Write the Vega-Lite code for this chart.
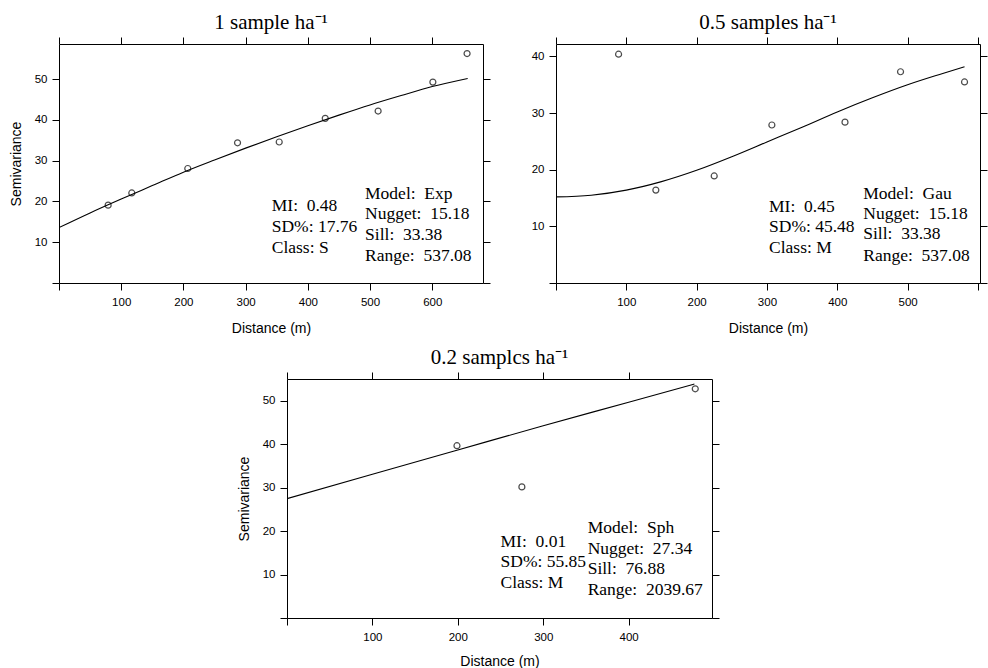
{
  "$schema": "https://vega.github.io/schema/vega-lite/v6.json",
  "background": "white",
  "padding": {"left": 8, "top": 11, "right": 0, "bottom": 0},
  "datasets": {
    "p1pts": [
      {"d": 79, "g": 19.1}, {"d": 117, "g": 22.1}, {"d": 207, "g": 28.1}, {"d": 287, "g": 34.4},
      {"d": 354, "g": 34.6}, {"d": 428, "g": 40.4}, {"d": 513, "g": 42.2}, {"d": 601, "g": 49.3}, {"d": 656, "g": 56.3}
    ],
    "p1fit": [
      {"d": 0, "g": 13.6}, {"d": 50, "g": 17.2}, {"d": 100, "g": 20.6}, {"d": 150, "g": 23.9}, {"d": 200, "g": 27.2},
      {"d": 250, "g": 30.2}, {"d": 300, "g": 33.1}, {"d": 350, "g": 35.9}, {"d": 400, "g": 38.6}, {"d": 450, "g": 41.2},
      {"d": 500, "g": 43.7}, {"d": 550, "g": 46.0}, {"d": 600, "g": 48.2}, {"d": 657, "g": 50.2}
    ],
    "p1txt": [
      {"d": 342, "g": 17.6, "t": "MI:\u00a0 0.48"},
      {"d": 342, "g": 12.4, "t": "SD%: 17.76"},
      {"d": 342, "g": 7.3, "t": "Class: S"},
      {"d": 492, "g": 20.7, "t": "Model:\u00a0 Exp"},
      {"d": 492, "g": 15.6, "t": "Nugget:\u00a0 15.18"},
      {"d": 492, "g": 10.6, "t": "Sill:\u00a0 33.38"},
      {"d": 492, "g": 5.4, "t": "Range:\u00a0 537.08"}
    ],
    "p2pts": [
      {"d": 89, "g": 40.4}, {"d": 142, "g": 16.4}, {"d": 225, "g": 18.9}, {"d": 307, "g": 27.9},
      {"d": 411, "g": 28.4}, {"d": 490, "g": 37.3}, {"d": 581, "g": 35.5}
    ],
    "p2fit": [
      {"d": 0, "g": 15.2}, {"d": 50, "g": 15.5}, {"d": 100, "g": 16.4}, {"d": 150, "g": 17.9}, {"d": 200, "g": 19.9},
      {"d": 250, "g": 22.3}, {"d": 300, "g": 24.9}, {"d": 350, "g": 27.5}, {"d": 400, "g": 30.2}, {"d": 450, "g": 32.7},
      {"d": 500, "g": 35.0}, {"d": 550, "g": 37.0}, {"d": 581, "g": 38.2}
    ],
    "p2txt": [
      {"d": 303, "g": 12.6, "t": "MI:\u00a0 0.45"},
      {"d": 303, "g": 9.0, "t": "SD%: 45.48"},
      {"d": 303, "g": 5.3, "t": "Class: M"},
      {"d": 437, "g": 14.9, "t": "Model:\u00a0 Gau"},
      {"d": 437, "g": 11.3, "t": "Nugget:\u00a0 15.18"},
      {"d": 437, "g": 7.7, "t": "Sill:\u00a0 33.38"},
      {"d": 437, "g": 3.9, "t": "Range:\u00a0 537.08"}
    ],
    "p3pts": [
      {"d": 199, "g": 39.7}, {"d": 275, "g": 30.2}, {"d": 478, "g": 52.8}
    ],
    "p3fit": [
      {"d": 0, "g": 27.5}, {"d": 100, "g": 33.1}, {"d": 200, "g": 38.7}, {"d": 300, "g": 44.3}, {"d": 400, "g": 49.7}, {"d": 477, "g": 53.9}
    ],
    "p3txt": [
      {"d": 250, "g": 16.4, "t": "MI:\u00a0 0.01"},
      {"d": 250, "g": 11.7, "t": "SD%: 55.85"},
      {"d": 250, "g": 6.9, "t": "Class: M"},
      {"d": 352, "g": 19.5, "t": "Model:\u00a0 Sph"},
      {"d": 352, "g": 14.8, "t": "Nugget:\u00a0 27.34"},
      {"d": 352, "g": 10.1, "t": "Sill:\u00a0 76.88"},
      {"d": 352, "g": 5.25, "t": "Range:\u00a0 2039.67"}
    ],
    "empty": []
  },
  "spacing": 10,
  "vconcat": [
    {
      "spacing": 39,
      "hconcat": [
        {
          "width": 424, "height": 239,
          "title": {"text": "1 sample ha\u207b\u00b9"},
          "layer": [
            {
              "data": {"name": "p1fit"},
              "mark": {"type": "line", "color": "#000", "strokeWidth": 1.1, "interpolate": "monotone", "clip": true},
              "encoding": {
                "x": {"field": "d", "type": "quantitative", "scale": {"domain": [0, 681.6], "nice": false, "zero": false},
                  "axis": {"orient": "bottom", "values": [0, 100, 200, 300, 400, 500, 600], "labelExpr": "datum.value == 0 ? '' : datum.label", "title": "Distance (m)"}},
                "y": {"field": "g", "type": "quantitative", "scale": {"domain": [0, 58.65], "nice": false, "zero": false},
                  "axis": {"orient": "left", "values": [0, 10, 20, 30, 40, 50], "labelExpr": "datum.value == 0 ? '' : datum.label", "title": "Semivariance"}}
              }
            },
            {
              "data": {"name": "p1pts"},
              "mark": {"type": "point", "shape": "circle", "color": "#000", "filled": false, "size": 36, "strokeWidth": 1.2},
              "encoding": {
                "x": {"field": "d", "type": "quantitative", "axis": {"orient": "top", "values": [0, 100, 200, 300, 400, 500, 600], "labels": false, "title": null}},
                "y": {"field": "g", "type": "quantitative", "axis": {"orient": "right", "values": [0, 10, 20, 30, 40, 50], "labels": false, "title": null}}
              }
            },
            {
              "data": {"name": "p1txt"},
              "mark": {"type": "text", "font": "Liberation Serif", "fontSize": 17.5, "align": "left", "baseline": "alphabetic", "color": "#000"},
              "encoding": {
                "x": {"field": "d", "type": "quantitative", "axis": null},
                "y": {"field": "g", "type": "quantitative", "axis": null},
                "text": {"field": "t"}
              }
            }
          ],
          "resolve": {"axis": {"x": "independent", "y": "independent"}}
        },
        {
          "width": 424, "height": 239,
          "title": {"text": "0.5 samples ha\u207b\u00b9"},
          "layer": [
            {
              "data": {"name": "p2fit"},
              "mark": {"type": "line", "color": "#000", "strokeWidth": 1.1, "interpolate": "monotone", "clip": true},
              "encoding": {
                "x": {"field": "d", "type": "quantitative", "scale": {"domain": [0, 603], "nice": false, "zero": false},
                  "axis": {"orient": "bottom", "values": [0, 100, 200, 300, 400, 500, 600], "labelExpr": "datum.value == 0 || datum.value == 600 ? '' : datum.label", "title": "Distance (m)"}},
                "y": {"field": "g", "type": "quantitative", "scale": {"domain": [0, 42.2], "nice": false, "zero": false},
                  "axis": {"orient": "left", "values": [0, 10, 20, 30, 40], "labelExpr": "datum.value == 0 ? '' : datum.label", "title": null}}
              }
            },
            {
              "data": {"name": "p2pts"},
              "mark": {"type": "point", "shape": "circle", "color": "#000", "filled": false, "size": 36, "strokeWidth": 1.2},
              "encoding": {
                "x": {"field": "d", "type": "quantitative", "axis": {"orient": "top", "values": [0, 100, 200, 300, 400, 500, 600], "labels": false, "title": null}},
                "y": {"field": "g", "type": "quantitative", "axis": {"orient": "right", "values": [0, 10, 20, 30, 40], "labels": false, "title": null}}
              }
            },
            {
              "data": {"name": "p2txt"},
              "mark": {"type": "text", "font": "Liberation Serif", "fontSize": 17.5, "align": "left", "baseline": "alphabetic", "color": "#000"},
              "encoding": {
                "x": {"field": "d", "type": "quantitative", "axis": null},
                "y": {"field": "g", "type": "quantitative", "axis": null},
                "text": {"field": "t"}
              }
            }
          ],
          "resolve": {"axis": {"x": "independent", "y": "independent"}}
        }
      ]
    },
    {
      "spacing": 0,
      "hconcat": [
        {
          "width": 177, "height": 20,
          "view": {"stroke": null},
          "data": {"name": "empty"},
          "mark": {"type": "point", "opacity": 0},
          "encoding": {}
        },
        {
          "width": 425, "height": 239,
          "title": {"text": "0.2 samplcs ha\u207b\u00b9"},
          "layer": [
            {
              "data": {"name": "p3fit"},
              "mark": {"type": "line", "color": "#000", "strokeWidth": 1.1, "interpolate": "monotone", "clip": true},
              "encoding": {
                "x": {"field": "d", "type": "quantitative", "scale": {"domain": [0, 497.6], "nice": false, "zero": false},
                  "axis": {"orient": "bottom", "values": [0, 100, 200, 300, 400], "labelExpr": "datum.value == 0 ? '' : datum.label", "title": "Distance (m)", "titlePadding": 12}},
                "y": {"field": "g", "type": "quantitative", "scale": {"domain": [0, 55.06], "nice": false, "zero": false},
                  "axis": {"orient": "left", "values": [0, 10, 20, 30, 40, 50], "labelExpr": "datum.value == 0 ? '' : datum.label", "title": "Semivariance"}}
              }
            },
            {
              "data": {"name": "p3pts"},
              "mark": {"type": "point", "shape": "circle", "color": "#000", "filled": false, "size": 36, "strokeWidth": 1.2},
              "encoding": {
                "x": {"field": "d", "type": "quantitative", "axis": {"orient": "top", "values": [0, 100, 200, 300, 400], "labels": false, "title": null}},
                "y": {"field": "g", "type": "quantitative", "axis": {"orient": "right", "values": [0, 10, 20, 30, 40, 50], "labels": false, "title": null}}
              }
            },
            {
              "data": {"name": "p3txt"},
              "mark": {"type": "text", "font": "Liberation Serif", "fontSize": 17.5, "align": "left", "baseline": "alphabetic", "color": "#000"},
              "encoding": {
                "x": {"field": "d", "type": "quantitative", "axis": null},
                "y": {"field": "g", "type": "quantitative", "axis": null},
                "text": {"field": "t"}
              }
            }
          ],
          "resolve": {"axis": {"x": "independent", "y": "independent"}}
        }
      ]
    }
  ],
  "config": {
    "view": {"stroke": "#000", "strokeWidth": 1},
    "axis": {
      "domain": false, "grid": false, "tickColor": "#000", "tickSize": 7, "tickWidth": 1,
      "labelFont": "Liberation Sans", "labelFontSize": 11.5, "labelColor": "#000", "labelFlush": false, "labelOverlap": false,
      "titleFont": "Liberation Sans", "titleFontSize": 14, "titleFontWeight": "normal", "titleColor": "#000"
    },
    "axisX": {"labelPadding": 6, "titlePadding": 14},
    "axisY": {"labelPadding": 5, "titlePadding": 11},
    "title": {"font": "Liberation Serif", "fontSize": 21, "fontWeight": "normal", "color": "#000", "baseline": "alphabetic", "offset": 4}
  }
}
